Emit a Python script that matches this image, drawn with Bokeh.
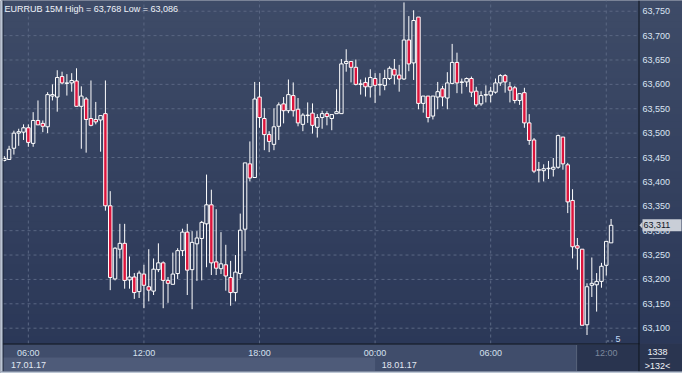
import numpy as np
import pandas as pd
from bokeh.plotting import figure
from bokeh.models import Range1d, Grid
from bokeh.core.properties import value
from bokeh.embed import file_html
from bokeh.resources import INLINE

# ---------------- data ----------------
symbol = "EURRUB"
timeframe = "15M"
first_bar = "2017-01-17 04:45"

opens = [63.444, 63.446, 63.469, 63.500, 63.502, 63.511, 63.479, 63.526, 63.520, 63.513,
         63.576, 63.574, 63.616, 63.602, 63.603, 63.607, 63.555, 63.570, 63.530, 63.528,
         63.527, 63.540, 63.351, 63.201, 63.262, 63.274, 63.199, 63.205, 63.175, 63.211,
         63.185, 63.176, 63.220, 63.234, 63.198, 63.190, 63.212, 63.259, 63.297, 63.220,
         63.273, 63.284, 63.314, 63.353, 63.236, 63.222, 63.230, 63.204, 63.173, 63.212,
         63.303, 63.437, 63.409, 63.574, 63.530, 63.497, 63.477, 63.514, 63.560, 63.546,
         63.577, 63.549, 63.518, 63.536, 63.541, 63.512, 63.532, 63.540, 63.530, 63.540,
         63.540, 63.643, 63.647, 63.635, 63.601, 63.604, 63.595, 63.612, 63.599, 63.598,
         63.612, 63.631, 63.619, 63.611, 63.691, 63.644, 63.738, 63.561, 63.576, 63.535,
         63.574, 63.591, 63.572, 63.602, 63.645, 63.604, 63.605, 63.612, 63.586, 63.560,
         63.578, 63.578, 63.584, 63.603, 63.618, 63.595, 63.593, 63.567, 63.583, 63.521,
         63.486, 63.425, 63.423, 63.427, 63.426, 63.430, 63.492, 63.435, 63.362, 63.269,
         63.262, 63.107, 63.188, 63.189, 63.196, 63.229, 63.275]
highs = [63.453, 63.474, 63.505, 63.509, 63.518, 63.518, 63.543, 63.567, 63.526, 63.584,
         63.600, 63.629, 63.626, 63.621, 63.623, 63.633, 63.596, 63.574, 63.608, 63.564,
         63.536, 63.608, 63.381, 63.266, 63.314, 63.314, 63.247, 63.213, 63.218, 63.230,
         63.262, 63.243, 63.274, 63.237, 63.205, 63.255, 63.264, 63.304, 63.314, 63.299,
         63.299, 63.320, 63.415, 63.384, 63.344, 63.297, 63.271, 63.238, 63.250, 63.335,
         63.439, 63.483, 63.605, 63.605, 63.551, 63.504, 63.551, 63.563, 63.574, 63.610,
         63.604, 63.572, 63.541, 63.563, 63.561, 63.539, 63.546, 63.545, 63.538, 63.590,
         63.652, 63.672, 63.647, 63.651, 63.610, 63.614, 63.631, 63.623, 63.623, 63.630,
         63.637, 63.652, 63.640, 63.768, 63.740, 63.752, 63.738, 63.576, 63.576, 63.576,
         63.605, 63.597, 63.625, 63.683, 63.665, 63.612, 63.614, 63.616, 63.595, 63.586,
         63.598, 63.595, 63.612, 63.621, 63.621, 63.605, 63.597, 63.581, 63.593, 63.539,
         63.490, 63.441, 63.436, 63.443, 63.449, 63.497, 63.492, 63.439, 63.385, 63.285,
         63.262, 63.192, 63.245, 63.213, 63.234, 63.278, 63.324]
lows = [63.442, 63.445, 63.456, 63.474, 63.486, 63.472, 63.472, 63.517, 63.502, 63.500,
        63.567, 63.544, 63.600, 63.577, 63.585, 63.555, 63.468, 63.460, 63.514, 63.518,
        63.462, 63.341, 63.178, 63.198, 63.243, 63.181, 63.181, 63.160, 63.162, 63.141,
        63.155, 63.168, 63.215, 63.141, 63.152, 63.190, 63.201, 63.248, 63.168, 63.139,
        63.197, 63.198, 63.225, 63.209, 63.209, 63.211, 63.177, 63.146, 63.155, 63.202,
        63.258, 63.401, 63.409, 63.511, 63.465, 63.461, 63.465, 63.486, 63.520, 63.541,
        63.534, 63.514, 63.504, 63.521, 63.499, 63.491, 63.509, 63.516, 63.506, 63.540,
        63.540, 63.626, 63.604, 63.598, 63.579, 63.575, 63.573, 63.562, 63.577, 63.588,
        63.609, 63.600, 63.585, 63.609, 63.627, 63.609, 63.549, 63.542, 63.522, 63.528,
        63.549, 63.555, 63.549, 63.600, 63.582, 63.581, 63.595, 63.574, 63.554, 63.556,
        63.563, 63.563, 63.581, 63.597, 63.583, 63.563, 63.561, 63.558, 63.511, 63.476,
        63.418, 63.399, 63.401, 63.406, 63.411, 63.427, 63.425, 63.336, 63.243, 63.220,
        63.106, 63.086, 63.164, 63.134, 63.183, 63.208, 63.275]
closes = [63.448, 63.467, 63.500, 63.503, 63.511, 63.481, 63.526, 63.517, 63.514, 63.579,
          63.579, 63.614, 63.603, 63.603, 63.608, 63.555, 63.576, 63.528, 63.516, 63.523,
          63.536, 63.351, 63.204, 63.264, 63.274, 63.198, 63.205, 63.173, 63.213, 63.188,
          63.178, 63.221, 63.234, 63.198, 63.192, 63.211, 63.259, 63.297, 63.219, 63.276,
          63.285, 63.317, 63.353, 63.234, 63.223, 63.232, 63.207, 63.173, 63.215, 63.301,
          63.439, 63.408, 63.570, 63.532, 63.497, 63.483, 63.513, 63.558, 63.546, 63.579,
          63.546, 63.521, 63.537, 63.537, 63.516, 63.532, 63.540, 63.534, 63.538, 63.544,
          63.642, 63.647, 63.635, 63.600, 63.600, 63.595, 63.614, 63.598, 63.600, 63.612,
          63.633, 63.619, 63.611, 63.691, 63.642, 63.731, 63.561, 63.576, 63.532, 63.576,
          63.585, 63.574, 63.603, 63.645, 63.603, 63.605, 63.612, 63.584, 63.558, 63.577,
          63.579, 63.586, 63.603, 63.618, 63.605, 63.588, 63.567, 63.581, 63.521, 63.485,
          63.422, 63.424, 63.427, 63.428, 63.430, 63.495, 63.437, 63.359, 63.267, 63.264,
          63.106, 63.185, 63.192, 63.196, 63.227, 63.278, 63.311]

price_ticks = [63.10, 63.15, 63.20, 63.25, 63.30, 63.35, 63.40,
               63.45, 63.50, 63.55, 63.60, 63.65, 63.70, 63.75]
bars_total = "1338"
bars_visible = ">132<"
countdown = "5"

# ---------------- derived ----------------
n = len(opens)
idx = np.arange(n)
times = pd.date_range(first_bar, periods=n, freq="15min")
o = np.array(opens); h = np.array(highs); l = np.array(lows); c = np.array(closes)
top = np.maximum(o, c); bot = np.minimum(o, c)
up = c >= o

time_ticks = [int(i) for i, t in enumerate(times) if t.minute == 0 and t.hour % 6 == 0]
time_labels = [times[i].strftime("%H:%M") for i in time_ticks]
day_starts = [0] + [int(i) for i in range(1, n) if times[i].date() != times[i - 1].date()]
date_labels = [times[i].strftime("%d.%m.%y") for i in day_starts]

def fmt(v):
    return f"{v:.3f}".replace(".", ",")

# ---------------- geometry (canvas pixels -> data) ----------------
W, H = 682, 373
FL, FR, FT, FB = 3, 639, 0, 343          # price-plot area inside the canvas
X0, X1 = -0.16, 131.9                    # bar-index range shown in the plot area
Y0, Y1 = 63.0686, 63.772                 # price range shown in the plot area

def px_x(px):
    return X0 + (px - FL) * (X1 - X0) / (FR - FL)

def px_y(py):
    return Y1 - (py - FT) * (Y1 - Y0) / (FB - FT)

DY = (Y1 - Y0) / (FB - FT)               # price per pixel
FONT = value("Liberation Sans")
FS = value("9px")
PANEL = "#404d6b"

p = figure(width=W, height=H, x_range=Range1d(px_x(0), px_x(W)),
           y_range=Range1d(px_y(H), px_y(0)),
           output_backend="svg", toolbar_location=None,
           x_axis_location=None, y_axis_location=None, min_border=0)
p.center = [r for r in p.center if not isinstance(r, Grid)]
p.outline_line_color = None
p.background_fill_color = PANEL
p.border_fill_color = PANEL

# gradient background of plot area and price scale
NB = 48
c_top = np.array([0x3e, 0x4b, 0x67]); c_bot = np.array([0x2b, 0x38, 0x58])
g_cols, g_top, g_bot = [], [], []
for k in range(NB):
    col = c_top + (c_bot - c_top) * (k + 0.5) / NB
    g_cols.append("#%02x%02x%02x" % tuple(int(round(v)) for v in col))
    g_top.append(px_y(FB * k / NB - 0.3)); g_bot.append(px_y(FB * (k + 1) / NB + 0.3))
p.quad(left=px_x(2), right=px_x(W), top=g_top, bottom=g_bot, fill_color=g_cols,
       line_color=None)

# bottom panels
session_px = 575.6
day_boundary = time_ticks[time_labels.index("00:00")]
panels = [  # (left, right, top, bottom, colour) in data coords
    (px_x(2), day_boundary, px_y(357), px_y(370.5), "#4e5b79"),     # first-day date row
    (px_x(session_px), px_x(FR), px_y(344.5), px_y(370.5), "#29344f"),  # session box
    (px_x(FR), px_x(W), px_y(FB), px_y(371), "#2a3550"),             # corner under scale
]
p.quad(left=[q[0] for q in panels], right=[q[1] for q in panels],
       top=[q[2] for q in panels], bottom=[q[3] for q in panels],
       fill_color=[q[4] for q in panels], line_color=None)
p.segment(px_x(session_px + 0.5), px_y(344.5), px_x(session_px + 0.5), px_y(370.5),
          line_color="#59657d", line_width=1)

# grid
p.segment(x0=time_ticks, y0=Y0, x1=time_ticks, y1=Y1, line_color="#5a6783",
          line_dash="3 3", line_width=1)
p.segment(x0=X0, y0=price_ticks, x1=px_x(FR), y1=price_ticks, line_color="#5a6783",
          line_dash="3 3", line_width=1)

# candles
p.segment(idx, h, idx, top, line_color="white", line_width=1)
p.segment(idx, bot, idx, l, line_color="white", line_width=1)
p.vbar(x=idx[up], top=top[up], bottom=bot[up], width=0.72,
       fill_color=None, line_color="white", line_width=1)
p.vbar(x=idx[~up], top=top[~up], bottom=bot[~up], width=0.72,
       fill_color="#dc143c", line_color="white", line_width=1)

# frame lines and outer border
p.segment(px_x(FR - 0.5), px_y(0), px_x(FR - 0.5), px_y(371), line_color="#0d121b", line_width=1)
p.segment(px_x(2), px_y(FB + 0.5), px_x(FR), px_y(FB + 0.5), line_color="#0d121b", line_width=1)
p.segment(px_x(2.5), px_y(0), px_x(2.5), px_y(371), line_color="#1a2233", line_width=1)
p.quad(left=[px_x(0), px_x(0)], right=[px_x(2), px_x(W)], top=[px_y(0), px_y(371)],
       bottom=[px_y(371), px_y(H)], fill_color="#bcc6d4", line_color=None)

# price scale labels
p.text(x=px_x(FR + 3), y=price_ticks, text=[fmt(v) for v in price_ticks],
       text_align="left", text_baseline="middle", text_font=FONT, text_font_size=FS,
       text_color="#dbe5f3")

# last price marker
last = closes[-1]
p.patch(x=[px_x(FR), px_x(FR + 3), px_x(FR + 3)],
        y=[last, last + 3.5 * DY, last - 3.5 * DY], fill_color="#c9ced7", line_color=None)
p.quad(left=px_x(FR + 3), right=px_x(W - 1), top=last + 6 * DY, bottom=last - 6 * DY,
       fill_color="#c9ced7", line_color=None)
p.text(x=px_x(FR + 4), y=last, text=[fmt(last)], text_align="left", text_baseline="middle",
       text_font=FONT, text_font_size=FS, text_color="#111827")

# time labels
in_session = [t >= px_x(session_px) for t in time_ticks]
p.text(x=[t for t, s in zip(time_ticks, in_session) if not s], y=px_y(352),
       text=[lab for lab, s in zip(time_labels, in_session) if not s],
       text_align="center", text_baseline="middle", text_font=FONT, text_font_size=FS,
       text_color="#d6e0ee")
p.text(x=[t for t, s in zip(time_ticks, in_session) if s], y=px_y(352),
       text=[lab for lab, s in zip(time_labels, in_session) if s],
       text_align="center", text_baseline="middle", text_font=FONT, text_font_size=FS,
       text_color="#7c889d")

# date labels
p.text(x=[s + 1.4 for s in day_starts], y=px_y(364), text=date_labels,
       text_align="left", text_baseline="middle", text_font=FONT, text_font_size=FS,
       text_color="#e2e8f2")

# title
title = f"{symbol} {timeframe} High = {fmt(max(highs))} Low = {fmt(min(lows))}"
p.text(x=px_x(4), y=px_y(3), text=[title], text_align="left", text_baseline="top",
       text_font=FONT, text_font_size=FS, text_color="#eef2f8")

# countdown marker
p.segment(px_x(606.5), px_y(340.5), px_x(612.5), px_y(340.5), line_color="#7d889c",
          line_dash="2 2", line_width=1)
p.text(x=px_x(617.5), y=px_y(338.5), text=[countdown], text_align="center",
       text_baseline="middle", text_font=FONT, text_font_size=FS, text_color="#c4dbf7")

# bar counters
p.text(x=px_x(657), y=[px_y(351), px_y(365)], text=[bars_total, bars_visible],
       text_align="center", text_baseline="middle", text_font=FONT, text_font_size=FS,
       text_color="#f0f3f8")
p.segment(px_x(649), px_y(358), px_x(665), px_y(358), line_color="#9aa4b6", line_width=1)

open("out.html", "w").write(file_html(p, INLINE))
